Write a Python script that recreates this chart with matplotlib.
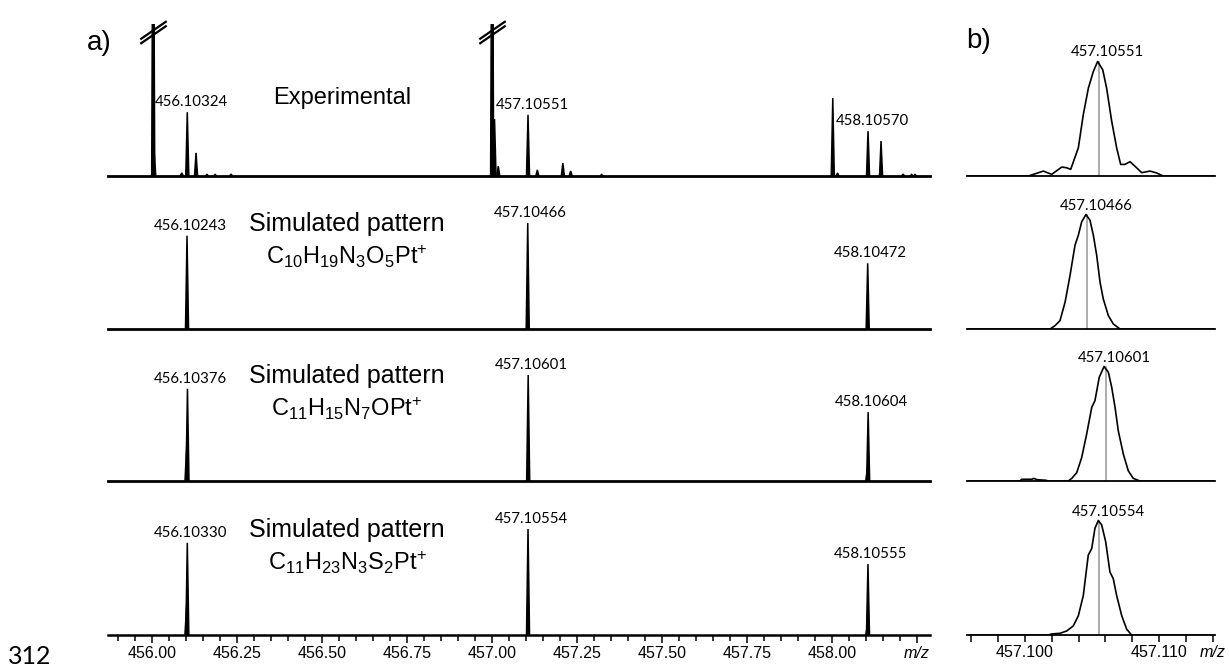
import matplotlib
matplotlib.use('Agg')
import matplotlib.pyplot as plt
from matplotlib.path import Path
from matplotlib.ticker import FixedLocator, MultipleLocator, NullFormatter, FixedFormatter

plt.rcParams['font.family'] = ['Liberation Sans', 'DejaVu Sans']
plt.rcParams['mathtext.fontset'] = 'custom'
plt.rcParams['mathtext.rm'] = 'Liberation Sans'
plt.rcParams['mathtext.it'] = 'Liberation Sans:italic'
plt.rcParams['xtick.labelsize'] = 11.5

# ---- panel a: experimental spectrum (peak m/z, height in % of panel scale, >40 = off scale)
exp_mz = [456.003, 456.006, 456.087, 456.10324, 456.129, 456.161, 456.185, 456.232,
          457.000, 457.007, 457.018, 457.10551, 457.133, 457.208, 457.231, 457.322,
          458.002, 458.016, 458.10570, 458.144, 458.209, 458.234, 458.244]
exp_int = [100, 6.0, 0.8, 16.8, 6.1, 0.4, 0.4, 0.5,
           100, 15.0, 2.6, 16.1, 1.6, 3.4, 1.3, 0.4,
           20.5, 0.8, 11.8, 9.2, 0.5, 0.4, 0.4]
exp_labels = ['456.10324', '457.10551', '458.10570']
exp_label_mz = [456.10324, 457.10551, 458.10570]

# ---- panel a: simulated patterns
sim_formulas = [r'C$_{10}$H$_{19}$N$_{3}$O$_{5}$Pt$^{+}$',
                r'C$_{11}$H$_{15}$N$_{7}$OPt$^{+}$',
                r'C$_{11}$H$_{23}$N$_{3}$S$_{2}$Pt$^{+}$']
sim_mz = [[456.10243, 457.10466, 458.10472],
          [456.10376, 457.10601, 458.10604],
          [456.10330, 457.10554, 458.10555]]
sim_int = [[88, 100, 62],
           [87, 100, 65],
           [87, 100, 67]]
sim_labels = [['456.10243', '457.10466', '458.10472'],
              ['456.10376', '457.10601', '458.10604'],
              ['456.10330', '457.10554', '458.10555']]
# unresolved fine-structure shoulders
sh_mz = [[], [456.1015, 458.1040], [456.1013, 458.1038]]
sh_int = [[], [33, 12], [28, 8]]

# ---- panel b: zoom on the 457.1 peak (profiles)
b_exp_mz = [457.09565, 457.10025, 457.10062, 457.10137, 457.10199, 457.10274, 457.10311,
            457.10341, 457.10398, 457.10435, 457.10473, 457.10510, 457.10542, 457.10580,
            457.10609, 457.10647, 457.10684, 457.10714, 457.10746, 457.10784, 457.10833,
            457.10871, 457.10933, 457.10983, 457.11032, 457.11418]
b_exp_int = [0, 0, 1.4, 4.3, 1.4, 7.8, 7.2, 5.8, 24.6, 53.6, 76.8, 91.3, 100, 92.8,
             76.8, 47.8, 24.6, 10.1, 10.1, 12.5, 7.2, 2.9, 4.3, 2.6, 0, 0]
b_sim1_mz = [457.09565, 457.10187, 457.10224, 457.10261, 457.10299, 457.10336, 457.10373,
             457.10398, 457.10423, 457.10455, 457.10485, 457.10510, 457.10535, 457.10560,
             457.10584, 457.10622, 457.10659, 457.10709, 457.11405]
b_sim1_int = [0, 0, 2.9, 7.3, 23.4, 46.8, 73.1, 81.9, 93.6, 100, 95.0, 81.9, 64.3, 40.9,
              26.3, 11.7, 4.4, 0, 0]
b_sim2_mz = [457.09577, 457.09963, 457.09975, 457.10050, 457.10067, 457.10087, 457.10157,
             457.10174, 457.10323, 457.10349, 457.10386, 457.10423, 457.10460, 457.10498,
             457.10522, 457.10554, 457.10590, 457.10622, 457.10647, 457.10672, 457.10696,
             457.10734, 457.10771, 457.10808, 457.10858, 457.11405]
b_sim2_int = [0, 0, 1.5, 1.5, 2.3, 1.2, 0.6, 0, 0, 2.3, 7.3, 20.5, 40.9, 64.3, 70.2, 90.6,
              100, 95.0, 81.9, 64.3, 43.9, 23.4, 8.8, 2.3, 0, 0]
b_sim3_mz = [457.09590, 457.10174, 457.10199, 457.10261, 457.10311, 457.10360, 457.10398,
             457.10435, 457.10472, 457.10498, 457.10522, 457.10547, 457.10572, 457.10602,
             457.10634, 457.10659, 457.10684, 457.10722, 457.10759, 457.10796, 457.11381]
b_sim3_int = [0, 0, 0.9, 1.5, 3.5, 7.9, 16.8, 34.4, 69.7, 75.6, 93.2, 100, 96.2, 81.5,
              55.0, 49.1, 34.4, 16.8, 5.0, 0, 0]
b_centroids = [457.10551, 457.10466, 457.10601, 457.10554]
b_labels = ['457.10551', '457.10466', '457.10601', '457.10554']

a_ticks = [456.00, 456.25, 456.50, 456.75, 457.00, 457.25, 457.50, 457.75, 458.00, 458.25]
a_ticklabels = ['456.00', '456.25', '456.50', '456.75', '457.00', '457.25', '457.50',
                '457.75', '458.00', 'm/z']
b_ticks = [457.096, 457.098, 457.100, 457.102, 457.104, 457.106, 457.108, 457.110,
           457.112, 457.114]
b_ticklabels = ['', '', '457.100', '', '', '', '', '457.110', '', 'm/z']

W, H = 1229, 668
fig = plt.figure(figsize=(W / 100, H / 100), dpi=100)
lab_font = ['Lato', 'DejaVu Sans']


def px_axes(left, right, baseline, height):
    ax = fig.add_axes([left / W, (H - baseline) / H, (right - left) / W, height / H])
    for s in ['top', 'left', 'right']:
        ax.spines[s].set_visible(False)
    ax.set_yticks([])
    ax.patch.set_alpha(0)
    return ax


def draw_peaks(ax, mz, inten, hw=0.0045, lw=1.1):
    for m, h in zip(mz, inten):
        ax.fill([m - hw, m, m + hw], [0, h, 0], color='black', lw=lw, clip_on=True)


a_xlim = (455.870, 458.288)
b_xlim = (457.09567, 457.11418)
baselines = [176, 329, 481, 635]

# break marker: two slanted parallel strokes
brk = Path([(-1, -0.52), (1, 0.86), (-1, -0.86), (1, 0.52)],
           [Path.MOVETO, Path.LINETO, Path.MOVETO, Path.LINETO])

# ---------------- panel a ----------------
ax_exp = px_axes(108, 930, baselines[0], 152)
ax_exp.set_xlim(*a_xlim)
ax_exp.set_ylim(0, 40)
draw_peaks(ax_exp, exp_mz, exp_int)
for m, h in zip(exp_mz, exp_int):
    if h > 40:
        ax_exp.plot([m, m], [0, 40], color='black', lw=1.8, solid_capstyle='butt')
        ax_exp.plot([m], [38.0], marker=brk, ms=19, mew=1.6, mec='black', ls='none',
                    clip_on=False)
for lab, m in zip(exp_labels, exp_label_mz):
    h = exp_int[exp_mz.index(m)]
    ax_exp.annotate(lab, (m, h), xytext=(-32, 10), textcoords='offset pixels',
                    ha='left', va='center', fontsize=10.8, family=lab_font)
ax_exp.text(456.56, 20.5, 'Experimental', ha='center', va='center', fontsize=17)
ax_exp.set_xticks([])
ax_exp.spines['bottom'].set_linewidth(2.0)

sim_axes = []
for i in range(3):
    ax = px_axes(108, 930, baselines[i + 1], 145)
    ax.set_xlim(*a_xlim)
    ax.set_ylim(0, 145 / 106 * 100)
    draw_peaks(ax, sim_mz[i], sim_int[i])
    draw_peaks(ax, sh_mz[i], sh_int[i], hw=0.005)
    for m, h, lab in zip(sim_mz[i], sim_int[i], sim_labels[i]):
        ax.annotate(lab, (m, h), xytext=(3, 10), textcoords='offset pixels',
                    ha='center', va='center', fontsize=10.8, family=lab_font)
    ax.text(456.573, 99, 'Simulated pattern', ha='center', va='center', fontsize=18)
    ax.text(456.573, 68, sim_formulas[i], ha='center', va='center', fontsize=17)
    ax.spines['bottom'].set_linewidth(2.0)
    if i < 2:
        ax.set_xticks([])
    sim_axes.append(ax)

ax_bot = sim_axes[-1]
ax_bot.spines['bottom'].set_linewidth(1.8)
ax_bot.xaxis.set_major_locator(FixedLocator(a_ticks))
ax_bot.xaxis.set_major_formatter(FixedFormatter(a_ticklabels))
ax_bot.xaxis.set_minor_locator(MultipleLocator(0.05))
ax_bot.xaxis.set_minor_formatter(NullFormatter())
ax_bot.tick_params(axis='x', which='major', direction='out', length=6, width=1.1,
                   pad=2, labelsize=11.5)
ax_bot.tick_params(axis='x', which='minor', direction='out', length=4.3, width=1.1)
ax_bot.get_xticklabels()[-1].set_style('italic')

# ---------------- panel b ----------------
b_profiles = [(b_exp_mz, b_exp_int), (b_sim1_mz, b_sim1_int),
              (b_sim2_mz, b_sim2_int), (b_sim3_mz, b_sim3_int)]
for i, ((mz, inten), cen, lab) in enumerate(zip(b_profiles, b_centroids, b_labels)):
    ax = px_axes(967, 1215, baselines[i], 140)
    ax.set_xlim(*b_xlim)
    ax.set_ylim(0, 140 / 114.5 * 100)
    top = max(inten)
    ax.plot([cen, cen], [0, top], color='#a6a6a6', lw=1.3)
    ax.plot(mz, inten, color='black', lw=1.2)
    ax.annotate(lab, (cen, top), xytext=(9, 9), textcoords='offset pixels',
                ha='center', va='center', fontsize=10.8, family=lab_font)
    ax.spines['bottom'].set_linewidth(1.3)
    if i < 3:
        ax.set_xticks([])
    else:
        ax.xaxis.set_major_locator(FixedLocator(b_ticks))
        ax.xaxis.set_major_formatter(FixedFormatter(b_ticklabels))
        ax.tick_params(axis='x', direction='out', length=5, width=1.1, pad=2,
                       labelsize=11.5)
        ax.get_xticklabels()[-1].set_style('italic')

fig.text(87 / W, 1 - 43 / H, 'a)', fontsize=20, va='center', ha='left')
fig.text(966 / W, 1 - 41 / H, 'b)', fontsize=20, va='center', ha='left')
fig.text(8 / W, 1 - 656 / H, '312', fontsize=18, va='center', ha='left', family=lab_font)

fig.savefig('out.png', dpi=100)
